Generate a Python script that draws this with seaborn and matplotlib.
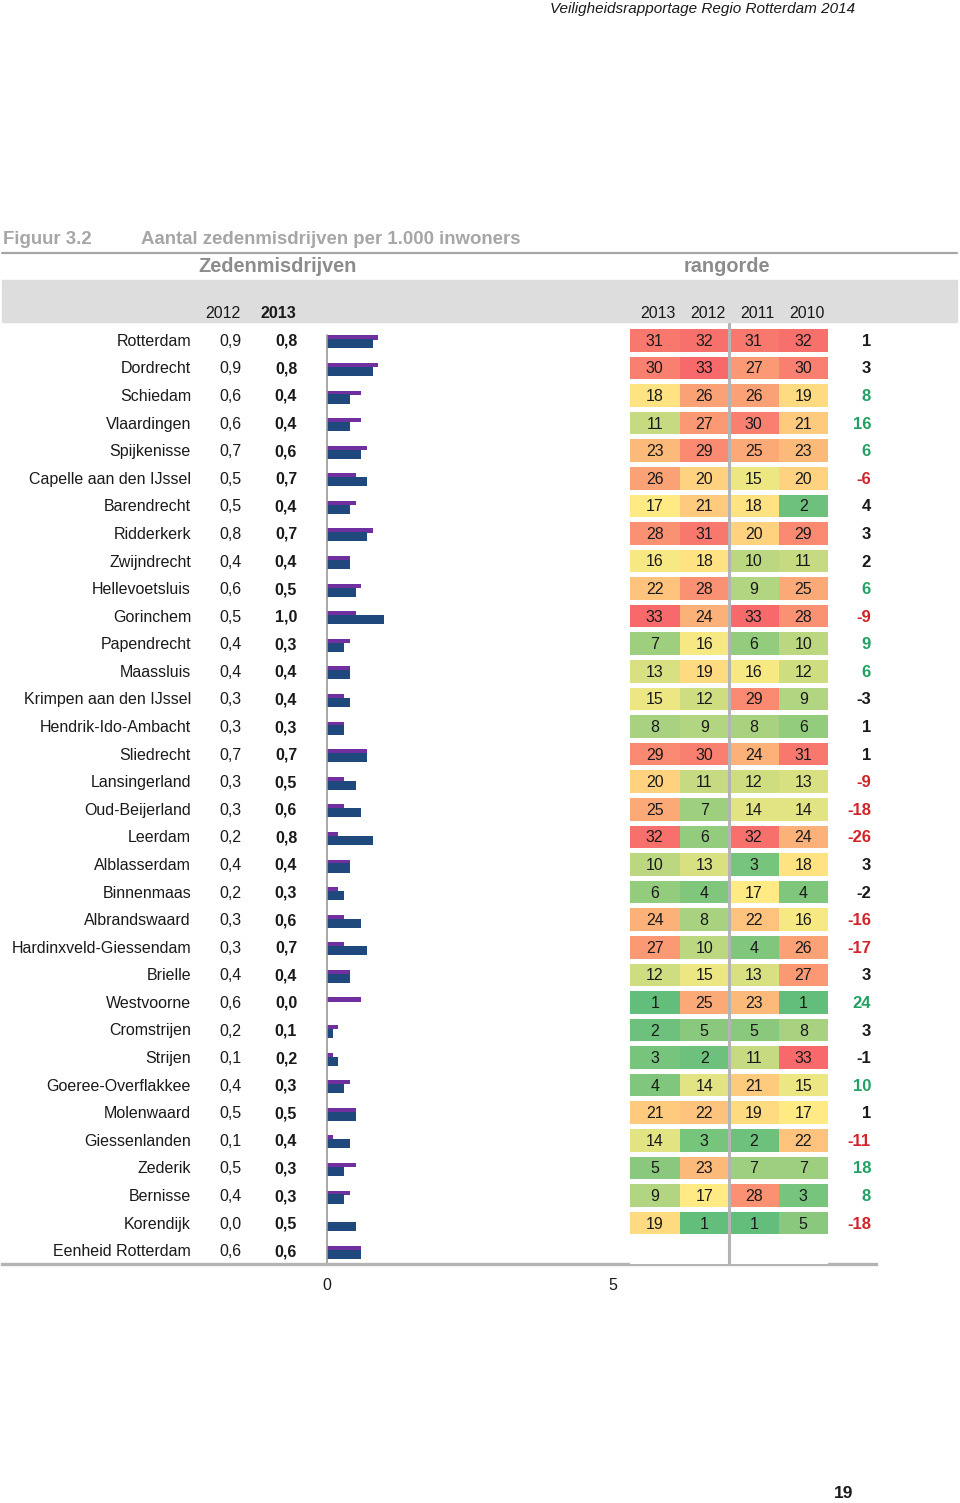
import numpy as np
import pandas as pd
import matplotlib as mpl
mpl.use('Agg')
from matplotlib import pyplot as plt
from matplotlib import transforms
from matplotlib.colors import LinearSegmentedColormap
import seaborn as sns

# gemeenten + eenheid
names = ['Rotterdam', 'Dordrecht', 'Schiedam', 'Vlaardingen', 'Spijkenisse',
         'Capelle aan den IJssel', 'Barendrecht', 'Ridderkerk', 'Zwijndrecht',
         'Hellevoetsluis', 'Gorinchem', 'Papendrecht', 'Maassluis',
         'Krimpen aan den IJssel', 'Hendrik-Ido-Ambacht', 'Sliedrecht',
         'Lansingerland', 'Oud-Beijerland', 'Leerdam', 'Alblasserdam',
         'Binnenmaas', 'Albrandswaard', 'Hardinxveld-Giessendam', 'Brielle',
         'Westvoorne', 'Cromstrijen', 'Strijen', 'Goeree-Overflakkee',
         'Molenwaard', 'Giessenlanden', 'Zederik', 'Bernisse', 'Korendijk',
         'Eenheid Rotterdam']

v2012 = [0.9, 0.9, 0.6, 0.6, 0.7, 0.5, 0.5, 0.8, 0.4, 0.6, 0.5, 0.4, 0.4, 0.3,
         0.3, 0.7, 0.3, 0.3, 0.2, 0.4, 0.2, 0.3, 0.3, 0.4, 0.6, 0.2, 0.1, 0.4,
         0.5, 0.1, 0.5, 0.4, 0.0, 0.6]
v2013 = [0.8, 0.8, 0.4, 0.4, 0.6, 0.7, 0.4, 0.7, 0.4, 0.5, 1.0, 0.3, 0.4, 0.4,
         0.3, 0.7, 0.5, 0.6, 0.8, 0.4, 0.3, 0.6, 0.7, 0.4, 0.0, 0.1, 0.2, 0.3,
         0.5, 0.4, 0.3, 0.3, 0.5, 0.6]

# rangorde (geen rang voor de eenheid)
rank_years = ['2013', '2012', '2011', '2010']
r2013 = [31, 30, 18, 11, 23, 26, 17, 28, 16, 22, 33, 7, 13, 15, 8, 29, 20, 25,
         32, 10, 6, 24, 27, 12, 1, 2, 3, 4, 21, 14, 5, 9, 19]
r2012 = [32, 33, 26, 27, 29, 20, 21, 31, 18, 28, 24, 16, 19, 12, 9, 30, 11, 7,
         6, 13, 4, 8, 10, 15, 25, 5, 2, 14, 22, 3, 23, 17, 1]
r2011 = [31, 27, 26, 30, 25, 15, 18, 20, 10, 9, 33, 6, 16, 29, 8, 24, 12, 14,
         32, 3, 17, 22, 4, 13, 23, 5, 11, 21, 19, 2, 7, 28, 1]
r2010 = [32, 30, 19, 21, 23, 20, 2, 29, 11, 25, 28, 10, 12, 9, 6, 31, 13, 14,
         24, 18, 4, 16, 26, 27, 1, 8, 33, 15, 17, 22, 7, 3, 5]
change = [1, 3, 8, 16, 6, -6, 4, 3, 2, 6, -9, 9, 6, -3, 1, 1, -9, -18, -26, 3,
          -2, -16, -17, 3, 24, 3, -1, 10, 1, -11, 18, 8, -18]

sns.set_style('white')
plt.rcParams['font.family'] = ['Liberation Sans', 'DejaVu Sans']

W, H = 960, 1503
fig = plt.figure(figsize=(W / 100, H / 100), dpi=100)


def fx(px):
    return px / W


def fy(py):
    return 1 - py / H


def axrect(left, top, right, bottom):
    return [fx(left), fy(bottom), fx(right) - fx(left), (bottom - top) / H]


GREY = '#a6a6a6'
DARK = '#1a1a1a'
VA = 'center_baseline'
n = len(names)
rows = np.arange(n)

# staven: 2012 paars (dun), 2013 blauw
ax = fig.add_axes(axrect(2, 326, 876, 1264))
ax.set_facecolor('none')
sns.barplot(x=v2012, y=rows - 0.085, orient='h', native_scale=True,
            width=0.15, color='#7030A0', saturation=1, linewidth=0, ax=ax)
sns.barplot(x=v2013, y=rows + 0.145, orient='h', native_scale=True,
            width=0.33, color='#1F497D', saturation=1, linewidth=0, ax=ax)
ax.set_xlim(-(327 - 2) / 57.2, (876 - 327) / 57.2)
ax.set_ylim(n - 0.5, -0.5)
ax.set_xticks([0, 5])
ax.set_xticklabels(['0', '5'])
ax.set_yticks([])
ax.set_xlabel('')
ax.set_ylabel('')
ax.tick_params(axis='x', length=0, pad=10, labelsize=11.5, labelcolor=DARK)
for s in ['top', 'right', 'left']:
    ax.spines[s].set_visible(False)
ax.spines['bottom'].set_color('#b4b4b4')
ax.spines['bottom'].set_linewidth(2.4)
ax.axvline(0, ymin=0, ymax=0.99, color='#9a9a9a', lw=1.2, zorder=1)

tr = transforms.blended_transform_factory(fig.transFigure, ax.transData)
for i, nm in enumerate(names):
    ax.text(fx(191), i, nm, transform=tr, ha='right', va=VA,
            fontsize=11.5, color=DARK)
    ax.text(fx(230), i, f'{v2012[i]:.1f}'.replace('.', ','), transform=tr,
            ha='center', va=VA, fontsize=11.5, color=DARK)
    ax.text(fx(286), i, f'{v2013[i]:.1f}'.replace('.', ','), transform=tr,
            ha='center', va=VA, fontsize=11.5, color=DARK,
            fontweight='bold')
for i, c in enumerate(change):
    col = '#23A063' if c >= 5 else ('#D2232A' if c <= -5 else DARK)
    ax.text(fx(871), i, f'{c}', transform=tr, ha='right', va=VA,
            fontsize=12, color=col, fontweight='bold')

# rangorde heatmap
ranks = pd.DataFrame({'2013': r2013, '2012': r2012, '2011': r2011,
                      '2010': r2010}, dtype=float)
ranks.loc[len(ranks)] = np.nan
cmap = LinearSegmentedColormap.from_list('rank', ['#63BE7B', '#FFEB84',
                                                  '#F8696B'])
hax = fig.add_axes(axrect(630, 326, 828, 1264))
hax.set_facecolor('none')
sns.heatmap(ranks, ax=hax, cmap=cmap, vmin=1, vmax=33, cbar=False,
            annot=True, fmt='.0f', xticklabels=False, yticklabels=False,
            annot_kws={'fontsize': 11.5, 'color': DARK, 'va': VA})
for b in range(0, n + 1):
    hax.axhline(b, color='white', lw=3.6, zorder=3)
hax.axvline(2, ymin=0, ymax=1.006, color='#b4b4b4', lw=2.2, zorder=5,
            clip_on=False)
hax.tick_params(length=0)

# koppen
for yr, px in zip(rank_years, [658, 708, 757, 807]):
    fig.text(fx(px), fy(312), yr, ha='center', va=VA, fontsize=11.5,
             color=DARK)
fig.text(fx(223), fy(312), '2012', ha='center', va=VA, fontsize=11.5,
         color=DARK)
fig.text(fx(278), fy(312), '2013', ha='center', va=VA, fontsize=11.5,
         color=DARK, fontweight='bold')

fig.patches.append(plt.Rectangle((fx(2), fy(322)), fx(955), (322 - 280) / H,
                                 transform=fig.transFigure, color='#dddddd',
                                 zorder=0))
fig.add_artist(plt.Line2D([fx(2), fx(957)], [fy(253), fy(253)], color=GREY,
                          lw=1.6))

fig.text(fx(3), fy(238), 'Figuur 3.2', ha='left', va=VA, fontsize=13.4,
         color=GREY, fontweight='bold')
fig.text(fx(141), fy(238), 'Aantal zedenmisdrijven per 1.000 inwoners',
         ha='left', va=VA, fontsize=13.4, color=GREY, fontweight='bold')
fig.text(fx(278), fy(265), 'Zedenmisdrijven', ha='center', va=VA,
         fontsize=14.3, color='#8c8c8c', fontweight='bold')
fig.text(fx(727), fy(265), 'rangorde', ha='center', va=VA,
         fontsize=14.3, color='#8c8c8c', fontweight='bold')

fig.text(fx(855), fy(8), 'Veiligheidsrapportage Regio Rotterdam 2014',
         ha='right', va=VA, fontsize=11, style='italic', color=DARK)
fig.text(fx(844), fy(1492), '19', ha='center', va=VA, fontsize=12.5,
         fontweight='bold', color=DARK)

fig.savefig('out.png', dpi=100)
